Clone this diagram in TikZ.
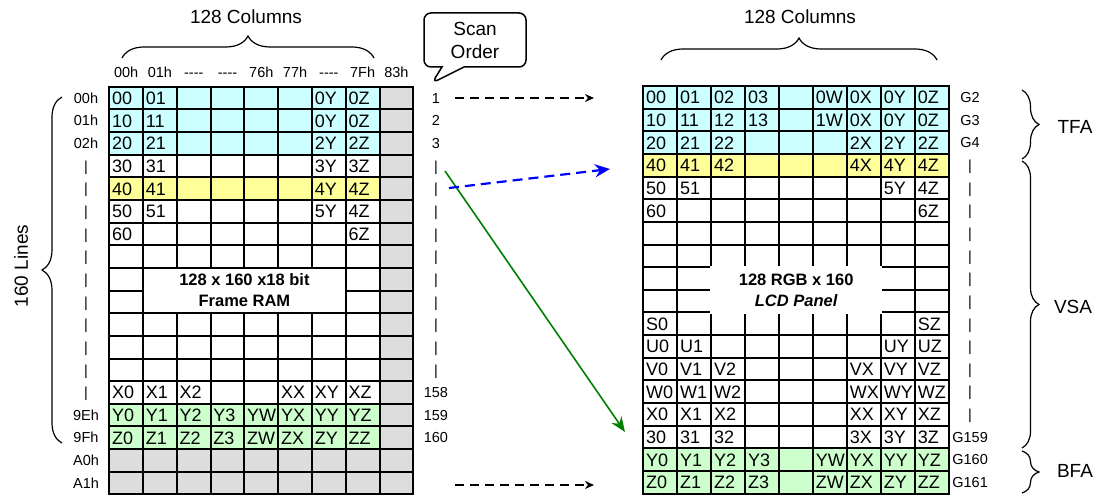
\documentclass[tikz,border=0pt]{standalone}
\usepackage{fontspec}
\setmainfont{Liberation Sans}
\usetikzlibrary{decorations.pathreplacing,shapes.callouts,arrows.meta,calc}
\definecolor{cyanF}{HTML}{CCFFFF}
\definecolor{yelF}{HTML}{FFFF99}
\definecolor{grnF}{HTML}{CCFFCC}
\definecolor{grayF}{HTML}{DDDDDD}
\definecolor{arrBlue}{HTML}{0000FF}
\definecolor{arrGreen}{HTML}{008000}
\newcommand\qdash{-{}-{}-{}-}
\begin{document}
\begin{tikzpicture}[x=1pt,y=-1pt,
  cell/.style={anchor=west, inner xsep=2.6pt, inner ysep=0pt, font=\fontsize{18}{18}\selectfont, text height=12.9pt, text depth=0pt},
  lbl/.style={font=\fontsize{14.5}{14.5}\selectfont, inner sep=0pt, text height=10.4pt, text depth=0pt},
  big/.style={font=\fontsize{19}{23}\selectfont, inner sep=0pt},
  gridline/.style={line width=2pt, line cap=rect},
  brc/.style={decorate, decoration={brace, amplitude=#1}, line width=1.2pt},
  brc/.default=20pt,
  blkdash/.style={line width=1.8pt, dash pattern=on 9pt off 6pt, -{Stealth[length=9pt,width=8pt]}},
  bluedash/.style={arrBlue, line width=2.2pt, dash pattern=on 10pt off 6pt, -{Stealth[length=15pt,width=13pt]}},
  greenarr/.style={arrGreen, line width=1.6pt, -{Stealth[length=15pt,width=12pt]}},
]
\useasboundingbox (0,0) rectangle (1096,497);

% ---------------- left grid (Frame RAM) ----------------
\begin{scope}[shift={(109.3pt,-86.7pt)}, x=33.78pt, y=-22.65pt]
  \fill[cyanF] (0,0) rectangle (8,3);
  \fill[yelF] (0,4) rectangle (8,5);
  \fill[grnF] (0,14) rectangle (8,16);
  \fill[grayF] (8,0) rectangle (9,18);
  \fill[grayF] (0,16) rectangle (9,18);
  \foreach \i in {0,...,18} \draw[gridline] (0,\i) -- (9,\i);
  \foreach \j in {0,...,9} \draw[gridline] (\j,0) -- (\j,18);
  \fill[white] (1,8) rectangle (7,10);
  \draw[gridline] (1,8) rectangle (7,10);
  \node[align=center, font=\bfseries\fontsize{16.5}{21}\selectfont] (ramtxt) at (4,9) {128 x 160 x18 bit\\Frame RAM};
  \foreach \r/\c/\t in {0/0/00,0/1/01,0/6/0Y,0/7/0Z,
      1/0/10,1/1/11,1/6/0Y,1/7/0Z,
      2/0/20,2/1/21,2/6/2Y,2/7/2Z,
      3/0/30,3/1/31,3/6/3Y,3/7/3Z,
      4/0/40,4/1/41,4/6/4Y,4/7/4Z,
      5/0/50,5/1/51,5/6/5Y,5/7/4Z,
      6/0/60,6/7/6Z,
      13/0/X0,13/1/X1,13/2/X2,13/5/XX,13/6/XY,13/7/XZ,
      14/0/Y0,14/1/Y1,14/2/Y2,14/3/Y3,14/4/YW,14/5/YX,14/6/YY,14/7/YZ,
      15/0/Z0,15/1/Z1,15/2/Z2,15/3/Z3,15/4/ZW,15/5/ZX,15/6/ZY,15/7/ZZ}
    \node[cell] (L-\r-\c) at (\c,{\r+0.5}) {\t};
  % column headers
  \foreach \c/\t in {0/00h,1/01h,2/\qdash,3/\qdash,4/76h,5/77h,6/\qdash,7/7Fh,8/83h}
    \node[lbl] (LH\c) at ({\c+0.5},-0.62) {\t};
  % row labels
  \foreach \r/\t in {0/00h,1/01h,2/02h,3/|,4/|,5/|,6/|,7/|,8/|,9/|,10/|,11/|,12/|,13/|,14/9Eh,15/9Fh,16/A0h,17/A1h}
    \node[lbl] (LR\r) at (-0.69,{\r+0.5}) {\t};
  % scan order numbers
  \foreach \r/\t in {0/1,1/2,2/3,3/|,4/|,5/|,6/|,7/|,8/|,9/|,10/|,11/|,12/|,13/158,14/159,15/160}
    \node[lbl] (SC\r) at (9.67,{\r+0.5}) {\t};
\end{scope}

% ---------------- right grid (LCD panel) ----------------
\begin{scope}[shift={(643.3pt,-86pt)}, x=33.97pt, y=-22.65pt]
  \fill[cyanF] (0,0) rectangle (9,3);
  \fill[yelF] (0,3) rectangle (9,4);
  \fill[grnF] (0,16) rectangle (9,18);
  \foreach \i in {0,...,18} \draw[gridline] (0,\i) -- (9,\i);
  \foreach \j in {0,...,9} \draw[gridline] (\j,0) -- (\j,18);
  \fill[white] ([shift={(-1.2pt,1.2pt)}]2,8) rectangle ([shift={(1.2pt,-1.2pt)}]7,10);
  \node[align=center, font=\bfseries\fontsize{16.5}{21}\selectfont] (lcdtxt) at (4.5,9) {128 RGB x 160\\\itshape LCD Panel};
  \foreach \r/\c/\t in {0/0/00,0/1/01,0/2/02,0/3/03,0/5/0W,0/6/0X,0/7/0Y,0/8/0Z,
      1/0/10,1/1/11,1/2/12,1/3/13,1/5/1W,1/6/0X,1/7/0Y,1/8/0Z,
      2/0/20,2/1/21,2/2/22,2/6/2X,2/7/2Y,2/8/2Z,
      3/0/40,3/1/41,3/2/42,3/6/4X,3/7/4Y,3/8/4Z,
      4/0/50,4/1/51,4/7/5Y,4/8/4Z,
      5/0/60,5/8/6Z,
      10/0/S0,10/8/SZ,
      11/0/U0,11/1/U1,11/7/UY,11/8/UZ,
      12/0/V0,12/1/V1,12/2/V2,12/6/VX,12/7/VY,12/8/VZ,
      13/0/W0,13/1/W1,13/2/W2,13/6/WX,13/7/WY,13/8/WZ,
      14/0/X0,14/1/X1,14/2/X2,14/6/XX,14/7/XY,14/8/XZ,
      15/0/30,15/1/31,15/2/32,15/6/3X,15/7/3Y,15/8/3Z,
      16/0/Y0,16/1/Y1,16/2/Y2,16/3/Y3,16/5/YW,16/6/YX,16/7/YY,16/8/YZ,
      17/0/Z0,17/1/Z1,17/2/Z2,17/3/Z3,17/5/ZW,17/6/ZX,17/7/ZY,17/8/ZZ}
    \node[cell] (R-\r-\c) at (\c,{\r+0.5}) {\t};
  \foreach \r/\t in {0/G2,1/G3,2/G4,3/|,4/|,5/|,6/|,7/|,8/|,9/|,10/|,11/|,12/|,13/|,14/|,15/G159,16/G160,17/G161}
    \node[lbl] (RG\r) at (9.62,{\r+0.5}) {\t};
\end{scope}

% ---------------- braces and labels ----------------
\draw[brc=22pt] (122,58) -- (374,58);
\node[big] (colL) at (246,17) {128 Columns};
\draw[brc=22pt] (661,60) -- (937,60);
\node[big] (colR) at (800,17) {128 Columns};
\draw[brc=20pt] (62,443) -- (62,97);
\node[big, rotate=90] (lines) at (21,266) {160 Lines};
\draw[brc=17pt] (1022,90) -- (1022,159);
\node[big] (tfa) at (1075,127) {TFA};
\draw[brc=17pt] (1022,161) -- (1022,448);
\node[big] (vsa) at (1073,307) {VSA};
\draw[brc=17pt] (1022,451) -- (1022,493);
\node[big] (bfa) at (1075,471) {BFA};

% ---------------- scan order callout ----------------
\node[rectangle callout, draw, line width=1.5pt, rounded corners=7pt, minimum width=102pt, minimum height=54pt,
      align=center, font=\fontsize{19}{23}\selectfont, inner sep=2pt,
      callout absolute pointer={(432,83)}, callout pointer width=22pt] (scan) at (475,40) {Scan\\Order};

% ---------------- arrows ----------------
\coordinate (a1s) at (455,98);
\coordinate (a1e) at (594,98);
\coordinate (a2s) at (455,485);
\coordinate (a2e) at (594,485);
\coordinate (bs) at (449,188);
\coordinate (be) at (610,169);
\coordinate (gs) at (445,171);
\coordinate (ge) at (625,432);
\draw[blkdash] (a1s) -- (a1e);
\draw[blkdash] (a2s) -- (a2e);
\draw[greenarr] (gs) -- (ge);
\draw[bluedash] (bs) -- (be);
\end{tikzpicture}
\end{document}
